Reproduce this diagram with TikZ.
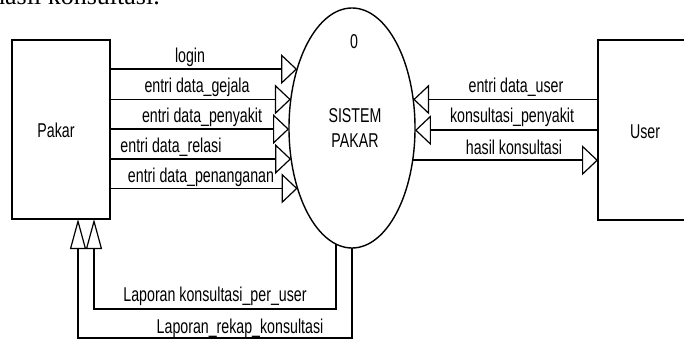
\documentclass[tikz,border=0pt]{standalone}
\usepackage{fontspec}
\setmainfont[FakeStretch=0.71]{Liberation Sans}
\newfontfamily\bodyserif{Liberation Serif}
\usetikzlibrary{arrows.meta,shapes.geometric}

\begin{document}
\begin{tikzpicture}[x=1pt,y=-1pt,
  lbl/.style={font=\fontsize{20}{24}\selectfont, inner sep=0pt, anchor=base},
  entity/.style={draw, line width=1.6pt, rectangle, inner sep=0pt, outer sep=0pt},
  proc/.style={draw, line width=1.4pt, ellipse, minimum width=126pt, minimum height=240pt, inner sep=0pt, outer sep=0pt},
  flowh/.style={line width=1.6pt, -{Triangle[open, length=16pt, width=30pt, line width=1.2pt]}},
  flowv/.style={line width=1.6pt, -{Triangle[open, length=30pt, width=16pt, line width=1.2pt]}},
]
\useasboundingbox (0,0) rectangle (684,340);
\clip (0,0) rectangle (684,340);

% end of the sentence running above the figure
\node[font=\bodyserif\fontsize{26}{30}\selectfont, inner sep=0pt, anchor=base west] (caption) at (-8,5) {hasil konsultasi.};

% external entities and the process
\node[entity, minimum width=98pt, minimum height=179pt] (pakar) at (61,129.5) {};
\node[entity, minimum width=94pt, minimum height=180pt] (user) at (645,130) {};
\node[proc] (sys) at (352,128) {};

\node[lbl] (pakartxt) at (56,137) {Pakar};
\node[lbl] (usertxt) at (645,138) {User};
\node[lbl] (num) at (354,48) {0};
\node[lbl] (sys1) at (355,122) {SISTEM};
\node[lbl] (sys2) at (355,147) {PAKAR};

% flows from Pakar into the system
\draw[flowh] (pakar.east |- sys.133.56) -- (sys.133.56);
\draw[flowh] (pakar.east |- sys.155.44) -- (sys.155.44);
\draw[flowh] (pakar.east |- sys.181.82) -- (sys.181.82);
\draw[flowh] (pakar.east |- sys.207.79) -- (sys.207.79);
\draw[flowh] (pakar.east |- sys.228.98) -- (sys.228.98);

\node[lbl] (f1) at (190,62) {login};
\node[lbl] (f2) at (197,92) {entri data\_gejala};
\node[lbl] (f3) at (202,122) {entri data\_penyakit};
\node[lbl] (f4) at (171,152) {entri data\_relasi};
\node[lbl] (f5) at (201,182) {entri data\_penanganan};

% flows between User and the system
\draw[flowh] (user.west |- sys.25.38) -- (sys.25.38);
\draw[flowh] (user.west |- sys.358.18) -- (sys.358.18);
\draw[flowh] (sys.332.21) -- (user.west |- sys.332.21);

\node[lbl] (g1) at (516,92) {entri data\_user};
\node[lbl] (g2) at (512,122) {konsultasi\_penyakit};
\node[lbl] (g3) at (514,154) {hasil konsultasi};

% reports back to Pakar
\draw[flowv] (sys.262.15) -- (sys.262.15 |- 0,309) -| ([xshift=33pt]pakar.south);
\draw[flowv] (sys.south) -- (sys.south |- 0,338) -| ([xshift=17pt]pakar.south);

\node[lbl] (r1) at (215,301) {Laporan konsultasi\_per\_user};
\node[lbl] (r2) at (240,333) {Laporan\_rekap\_konsultasi};
\end{tikzpicture}
\end{document}
